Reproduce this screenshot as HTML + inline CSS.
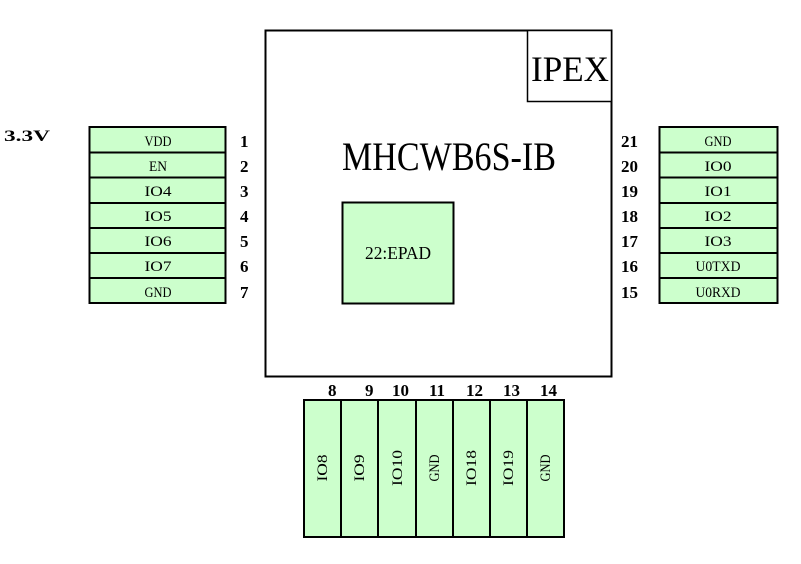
<!DOCTYPE html>
<html><head><meta charset="utf-8"><style>
html,body{margin:0;padding:0;background:#fff;}
svg{display:block;}
text{font-family:"Liberation Serif","Noto Serif CJK SC",serif;}
.p{font-size:15px;fill:#000;}
.n{font-family:"Liberation Serif",serif;font-weight:bold;font-size:17px;}
</style></head><body>
<svg width="801" height="564" viewBox="0 0 801 564" xmlns="http://www.w3.org/2000/svg">
<rect x="265.5" y="30.5" width="346" height="346" fill="#fff" stroke="#000" stroke-width="2"/>
<rect x="527.5" y="30.5" width="84" height="71" fill="#fff" stroke="#000" stroke-width="1.5"/>
<text x="570" y="81" font-size="36" text-anchor="middle" textLength="78" lengthAdjust="spacingAndGlyphs">IPEX</text>
<text x="449" y="170" font-size="40" text-anchor="middle" textLength="214" lengthAdjust="spacingAndGlyphs">MHCWB6S-IB</text>
<rect x="342.5" y="202.5" width="111" height="101" fill="#ccffcc" stroke="#000" stroke-width="2"/>
<text x="398" y="259" font-size="18" text-anchor="middle" textLength="66" lengthAdjust="spacingAndGlyphs">22:EPAD</text>

<text x="4" y="141" font-family="Liberation Mono" font-weight="bold" font-size="16" textLength="46" lengthAdjust="spacingAndGlyphs">3.3V</text>

<g stroke="#000" stroke-width="2" fill="#ccffcc">
<rect x="89.5" y="127" width="136" height="176"/>
<rect x="659.5" y="127" width="118" height="176"/>
<rect x="304" y="400" width="260" height="137"/>
</g>
<g stroke="#000" stroke-width="2">
<line x1="89" y1="152.5" x2="226" y2="152.5"/><line x1="89" y1="177.5" x2="226" y2="177.5"/>
<line x1="89" y1="203" x2="226" y2="203"/><line x1="89" y1="228" x2="226" y2="228"/>
<line x1="89" y1="253" x2="226" y2="253"/><line x1="89" y1="278" x2="226" y2="278"/>
<line x1="659" y1="152.5" x2="778" y2="152.5"/><line x1="659" y1="177.5" x2="778" y2="177.5"/>
<line x1="659" y1="203" x2="778" y2="203"/><line x1="659" y1="228" x2="778" y2="228"/>
<line x1="659" y1="253" x2="778" y2="253"/><line x1="659" y1="278" x2="778" y2="278"/>
<line x1="341" y1="400" x2="341" y2="537"/><line x1="378" y1="400" x2="378" y2="537"/>
<line x1="416" y1="400" x2="416" y2="537"/><line x1="453" y1="400" x2="453" y2="537"/>
<line x1="490" y1="400" x2="490" y2="537"/><line x1="527" y1="400" x2="527" y2="537"/>
</g>
<g class="p" text-anchor="middle" lengthAdjust="spacingAndGlyphs">
<text x="158" y="146" textLength="27" lengthAdjust="spacingAndGlyphs">VDD</text>
<text x="158" y="171" textLength="18" lengthAdjust="spacingAndGlyphs">EN</text>
<text x="158" y="196" textLength="27" lengthAdjust="spacingAndGlyphs">IO4</text>
<text x="158" y="221" textLength="27" lengthAdjust="spacingAndGlyphs">IO5</text>
<text x="158" y="246" textLength="27" lengthAdjust="spacingAndGlyphs">IO6</text>
<text x="158" y="271" textLength="27" lengthAdjust="spacingAndGlyphs">IO7</text>
<text x="158" y="297" textLength="27" lengthAdjust="spacingAndGlyphs">GND</text>
<text x="718" y="146" textLength="27" lengthAdjust="spacingAndGlyphs">GND</text>
<text x="718" y="171" textLength="27" lengthAdjust="spacingAndGlyphs">IO0</text>
<text x="718" y="196" textLength="27" lengthAdjust="spacingAndGlyphs">IO1</text>
<text x="718" y="221" textLength="27" lengthAdjust="spacingAndGlyphs">IO2</text>
<text x="718" y="246" textLength="27" lengthAdjust="spacingAndGlyphs">IO3</text>
<text x="718" y="271" textLength="45" lengthAdjust="spacingAndGlyphs">U0TXD</text>
<text x="718" y="297" textLength="45" lengthAdjust="spacingAndGlyphs">U0RXD</text>
</g>
<g class="n">
<text x="240" y="147">1</text><text x="240" y="172">2</text><text x="240" y="197">3</text>
<text x="240" y="222">4</text><text x="240" y="247">5</text><text x="240" y="272">6</text><text x="240" y="298">7</text>
<text x="621" y="147">21</text><text x="621" y="172">20</text><text x="621" y="197">19</text>
<text x="621" y="222">18</text><text x="621" y="247">17</text><text x="621" y="272">16</text><text x="621" y="298">15</text>
<text x="328" y="396">8</text><text x="365" y="396">9</text><text x="392" y="396">10</text>
<text x="429" y="396">11</text><text x="466" y="396">12</text><text x="503" y="396">13</text><text x="540" y="396">14</text>
</g>
<g class="p" text-anchor="middle">
<text transform="translate(327,468) rotate(-90)" textLength="27" lengthAdjust="spacingAndGlyphs">IO8</text>
<text transform="translate(364,468) rotate(-90)" textLength="27" lengthAdjust="spacingAndGlyphs">IO9</text>
<text transform="translate(402,468) rotate(-90)" textLength="36" lengthAdjust="spacingAndGlyphs">IO10</text>
<text transform="translate(439,468) rotate(-90)" textLength="27" lengthAdjust="spacingAndGlyphs">GND</text>
<text transform="translate(476,468) rotate(-90)" textLength="36" lengthAdjust="spacingAndGlyphs">IO18</text>
<text transform="translate(513,468) rotate(-90)" textLength="36" lengthAdjust="spacingAndGlyphs">IO19</text>
<text transform="translate(550,468) rotate(-90)" textLength="27" lengthAdjust="spacingAndGlyphs">GND</text>
</g>
</svg>
</body></html>
